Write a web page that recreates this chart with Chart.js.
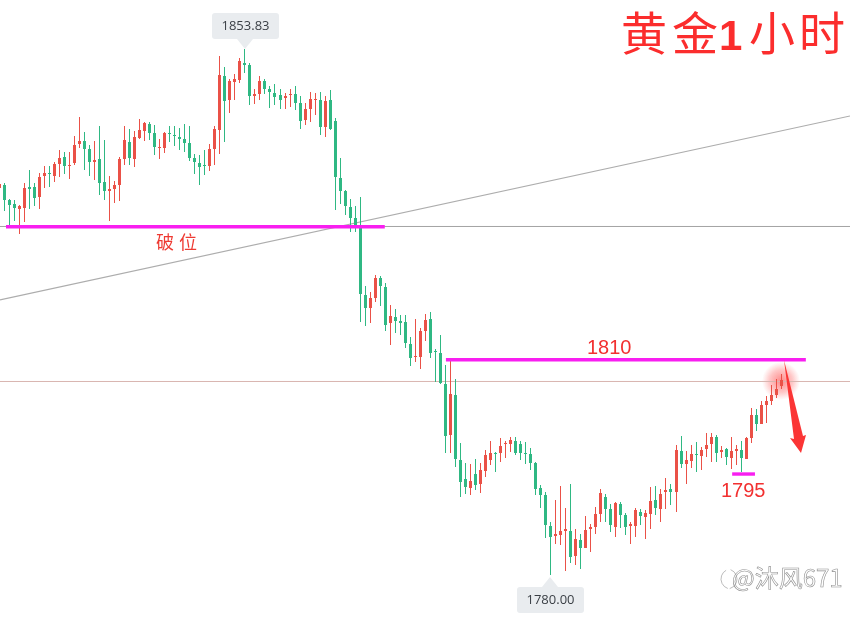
<!DOCTYPE html>
<html><head><meta charset="utf-8">
<style>html,body{margin:0;padding:0;background:#fff}canvas{display:block}</style>
<script src="https://cdn.jsdelivr.net/npm/chart.js@4"></script>
</head><body><canvas id="c" width="850" height="618"></canvas>
<script>
const highs=[1834.88,1835.02,1832.78,1832.64,1831.93,1835.02,1836.85,1835.02,1836.43,1837.41,1837.41,1837.97,1839.65,1839.37,1839.37,1841.62,1844.29,1842.18,1840.36,1840.92,1843.03,1841.06,1836.01,1835.30,1838.67,1843.03,1842.60,1842.32,1844.01,1843.59,1843.59,1843.17,1841.20,1842.18,1843.03,1843.03,1842.75,1843.31,1843.03,1839.09,1838.95,1839.65,1840.50,1843.03,1852.85,1851.30,1849.62,1850.32,1852.57,1853.83,1851.87,1848.22,1850.04,1849.62,1848.64,1848.92,1848.22,1847.66,1848.22,1848.64,1847.23,1846.25,1847.80,1847.66,1847.80,1847.23,1848.08,1844.15,1838.53,1834.04,1832.78,1831.79,1833.06,1820.56,1819.72,1822.11,1821.97,1820.99,1817.90,1817.34,1816.49,1816.49,1813.41,1815.93,1814.67,1816.63,1816.91,1811.72,1813.69,1809.47,1810.46,1807.51,1798.53,1795.72,1795.58,1796.28,1795.72,1797.54,1798.81,1797.26,1799.23,1798.81,1799.37,1799.37,1798.81,1798.67,1797.82,1795.86,1792.63,1791.65,1787.44,1790.53,1792.49,1789.40,1792.77,1786.45,1785.75,1788.28,1787.16,1789.54,1792.07,1791.37,1789.97,1790.25,1790.25,1788.70,1787.44,1789.40,1789.26,1789.12,1792.35,1792.49,1792.07,1793.61,1792.77,1798.25,1799.51,1797.40,1798.25,1798.67,1797.96,1799.93,1799.93,1799.65,1798.11,1797.82,1799.37,1798.25,1798.81,1799.37,1803.44,1803.30,1804.42,1805.12,1806.67,1807.51,1808.21];
const lows=[1834.32,1831.09,1829.13,1829.69,1827.86,1829.55,1831.37,1831.79,1831.37,1834.32,1834.46,1835.16,1835.86,1836.29,1835.58,1837.55,1839.93,1836.85,1836.01,1835.44,1833.34,1832.64,1829.69,1832.22,1832.50,1837.55,1837.55,1837.27,1841.20,1840.92,1841.06,1838.95,1838.39,1839.23,1840.78,1840.22,1839.65,1839.37,1838.11,1836.29,1834.74,1836.15,1836.71,1837.55,1839.09,1840.78,1844.85,1846.67,1849.06,1850.46,1845.97,1846.11,1846.67,1847.52,1845.55,1845.97,1845.41,1845.41,1845.69,1845.27,1842.60,1843.17,1843.59,1844.57,1841.76,1841.48,1842.46,1831.23,1832.08,1830.53,1828.14,1828.14,1815.51,1814.95,1815.37,1818.32,1817.76,1814.25,1812.28,1813.97,1813.69,1811.86,1809.34,1809.90,1808.91,1812.84,1810.46,1807.09,1806.81,1797.12,1797.12,1795.16,1790.95,1791.37,1791.23,1791.93,1791.51,1793.75,1795.44,1794.46,1795.86,1796.42,1797.26,1796.84,1796.14,1795.58,1794.74,1791.23,1789.40,1785.19,1780.00,1784.35,1784.21,1780.56,1781.68,1781.40,1780.84,1783.79,1783.23,1785.75,1787.44,1787.44,1786.03,1785.33,1786.59,1785.61,1784.35,1785.33,1787.02,1785.05,1786.45,1788.42,1787.44,1789.26,1789.82,1788.84,1795.00,1792.77,1795.00,1794.46,1794.74,1796.56,1795.86,1795.86,1796.42,1795.44,1794.88,1795.44,1794.46,1796.28,1798.53,1800.21,1801.19,1801.33,1803.86,1804.84,1806.11];
const opens=[1834.32,1834.74,1832.64,1832.08,1831.37,1831.51,1834.46,1834.46,1833.06,1836.01,1836.43,1836.01,1837.69,1838.67,1837.41,1837.83,1840.50,1840.92,1839.79,1837.97,1838.39,1835.16,1833.90,1834.18,1834.74,1838.39,1840.78,1838.39,1841.34,1842.32,1843.31,1842.04,1839.93,1839.93,1842.04,1841.76,1841.48,1841.20,1840.64,1838.53,1837.83,1837.55,1837.41,1839.79,1842.46,1850.04,1846.67,1849.20,1849.48,1851.87,1851.59,1847.23,1847.52,1849.34,1848.22,1847.66,1847.38,1846.95,1847.38,1847.52,1846.25,1843.87,1845.41,1846.67,1846.67,1842.88,1846.67,1843.73,1835.72,1833.90,1831.65,1830.11,1828.84,1819.30,1817.48,1818.88,1821.69,1820.42,1815.37,1816.21,1815.65,1815.51,1812.42,1810.60,1810.60,1814.25,1815.93,1811.44,1811.16,1806.81,1799.65,1805.26,1796.14,1793.47,1792.21,1794.18,1792.77,1794.60,1796.14,1797.12,1797.12,1798.39,1798.39,1798.81,1798.39,1797.12,1796.98,1795.72,1792.21,1791.23,1786.87,1785.47,1785.61,1786.17,1786.17,1782.66,1784.91,1783.79,1786.45,1786.73,1788.56,1790.95,1789.26,1786.73,1789.97,1788.42,1786.87,1786.87,1788.84,1788.14,1788.56,1790.53,1789.26,1791.65,1792.07,1791.65,1797.40,1795.58,1796.00,1796.98,1796.70,1797.68,1798.39,1799.37,1797.26,1797.68,1796.42,1797.40,1797.54,1796.28,1799.23,1802.46,1801.19,1803.86,1804.42,1805.26,1806.53];
const closes=[1834.88,1832.64,1831.93,1831.51,1831.79,1834.32,1834.18,1832.92,1835.86,1836.43,1836.29,1837.69,1838.53,1837.41,1837.55,1840.36,1840.92,1839.79,1837.97,1838.25,1835.02,1833.90,1834.18,1834.74,1838.39,1841.06,1838.53,1841.48,1842.46,1843.45,1842.04,1840.08,1840.08,1842.04,1841.90,1841.62,1841.20,1840.64,1838.53,1837.97,1837.27,1837.41,1839.79,1842.60,1850.18,1846.53,1849.34,1849.62,1852.15,1851.59,1847.23,1847.52,1849.34,1848.22,1847.80,1847.10,1846.67,1847.23,1847.52,1846.25,1843.73,1845.41,1846.81,1846.81,1842.88,1846.53,1842.60,1835.86,1833.90,1831.79,1830.11,1828.99,1819.44,1817.48,1818.88,1821.69,1820.56,1815.09,1816.35,1815.65,1815.37,1812.56,1810.46,1810.74,1814.25,1815.79,1811.16,1811.30,1806.95,1799.51,1805.40,1796.28,1793.05,1792.35,1793.19,1792.63,1794.74,1796.84,1797.12,1796.98,1798.11,1798.53,1798.95,1797.12,1797.12,1796.98,1795.72,1792.07,1791.23,1787.02,1785.33,1785.75,1786.17,1786.45,1782.52,1785.05,1783.79,1786.31,1786.73,1788.56,1791.51,1789.26,1787.02,1790.11,1788.42,1786.73,1787.16,1789.12,1788.28,1788.70,1790.39,1789.40,1791.37,1791.93,1791.65,1797.54,1795.58,1796.14,1796.98,1796.84,1797.54,1798.25,1799.37,1797.12,1797.54,1796.56,1797.40,1797.68,1796.42,1799.23,1802.46,1801.19,1803.86,1804.42,1805.26,1806.11,1807.37];

const candleIndex=highs.map((_,i)=>i);
const peakLabel='1853.83', troughLabel='1780.00';
const breakLevel=1828.92, resistLevel=1807.16;
const breakMark=1828.88, mark1810=1810.22, mark1795=1794.17;
const trendFrom=[0.14,1818.60], trendTo=[169.71,1844.43];

const RED='#ea5147', GREEN='#2fb883';
const colors=opens.map((o,i)=>closes[i]>=o?RED:GREEN);
const seg=(a,b,c,w,order)=>({type:'line',data:[{x:a[0],y:a[1]},{x:b[0],y:b[1]}],borderColor:c,borderWidth:w,pointRadius:0,tension:0,order});

const overlay={id:'overlay',
 afterDatasetsUpdate(ch){
  ch.data.datasets.forEach((d,k)=>{
   if(d.type!=='bar')return;
   ch.getDatasetMeta(k).data.forEach(el=>{
    el.x=Math.floor(el.x)+0.5;
    el.width=d.maxBarThickness;
    let t=Math.round(Math.min(el.y,el.base)),b=Math.round(Math.max(el.y,el.base));
    if(b===t)b=t+1;
    el.y=t;el.base=b;el.height=b-t;
   });
  });
 },
 beforeDatasetsDraw(ch){
  const c=ch.ctx,g=c.createRadialGradient(781,381,2,781,381,19);
  g.addColorStop(0,'rgba(255,60,60,.55)');g.addColorStop(.55,'rgba(255,70,70,.3)');g.addColorStop(1,'rgba(255,90,90,0)');
  c.fillStyle=g;c.beginPath();c.arc(781,381,19,0,Math.PI*2);c.fill();
 },
 afterDatasetsDraw(ch){
  const c=ch.ctx;c.save();
  // arrow
  c.fillStyle='#fb3535';c.beginPath();
  [[784,360],[803,436],[806,435],[801,453],[790,438],[794,439]].forEach((p,i)=>i?c.lineTo(p[0],p[1]):c.moveTo(p[0],p[1]));
  c.closePath();c.fill();
  // value boxes
  const box=(x,y,w,h,tx,ty1,ty2,txt)=>{
   c.fillStyle='#e9ecef';c.beginPath();c.roundRect(x,y,w,h,3);c.fill();
   c.beginPath();c.moveTo(tx-8,ty1);c.lineTo(tx,ty2);c.lineTo(tx+8,ty1);c.closePath();c.fill();
   c.fillStyle='#3a3f45';c.font='13px "Open Sans",Roboto,sans-serif';c.textAlign='center';c.textBaseline='middle';
   c.fillText(txt,x+w/2,y+h/2+.5);
  };
  box(212,13,67,26,245,39,49,peakLabel);
  box(517,587,67,26,550,587,577,troughLabel);
  // title
  c.textAlign='left';c.textBaseline='alphabetic';c.fillStyle='#fb2d2d';
  c.font='46px "Noto Sans CJK SC"';
  c.fillText('黄',621,50);c.fillText('金',672,50);
  c.font='bold 42px "Liberation Sans"';c.fillText('1',719,50);
  c.font='46px "Noto Sans CJK SC"';
  c.fillText('小',749,50);c.fillText('时',799,50);
  // labels
  c.fillStyle='#ee3a32';c.font='18px "Noto Sans CJK SC"';
  c.fillText('破',156,249);c.fillText('位',179,249);
  c.fillStyle='#f23030';c.font='20px "Liberation Sans"';
  c.fillText('1810',587,354);c.fillText('1795',721,497);
  // watermark
  c.font='24px "Noto Sans CJK SC"';c.lineWidth=.6;c.strokeStyle='#8f8f8f';c.fillStyle='#fff';
  c.strokeText('@沐风671',732,587);
  c.beginPath();c.arc(727,579,10,-1.2,1.3);c.stroke();
  c.beginPath();c.arc(731,579,10,1.9,4.2);c.stroke();
  c.restore();
 }};

new Chart(document.getElementById('c'),{
 data:{datasets:[
  seg([0.14,breakLevel],[169.71,breakLevel],'#a3a3a3',1,9),
  seg([0.14,resistLevel],[169.71,resistLevel],'#d9b5b0',1,9),
  seg(trendFrom,trendTo,'#adadad',1.2,9),
  {type:'bar',grouped:false,maxBarThickness:1,data:candleIndex.map(i=>({x:i,y:[lows[i],highs[i]]})),backgroundColor:colors,order:5},
  {type:'bar',grouped:false,maxBarThickness:3,data:candleIndex.map(i=>({x:i,y:[opens[i],closes[i]]})),backgroundColor:colors,order:4},
  seg([1.34,breakMark],[76.9,breakMark],'#f81ef0',3.4,1),
  seg([89.1,mark1810],[160.9,mark1810],'#f81ef0',3.4,1),
  seg([146.2,mark1795],[150.75,mark1795],'#f81ef0',3.4,1)
 ]},
 options:{responsive:false,animation:false,events:[],
  layout:{padding:0},
  plugins:{legend:{display:false},tooltip:{enabled:false},title:{display:false}},
  scales:{x:{type:'linear',display:false,offset:false,min:0.14,max:169.71},y:{type:'linear',display:false,min:1773.96,max:1860.71}}},
 plugins:[overlay]
});
</script></body></html>
